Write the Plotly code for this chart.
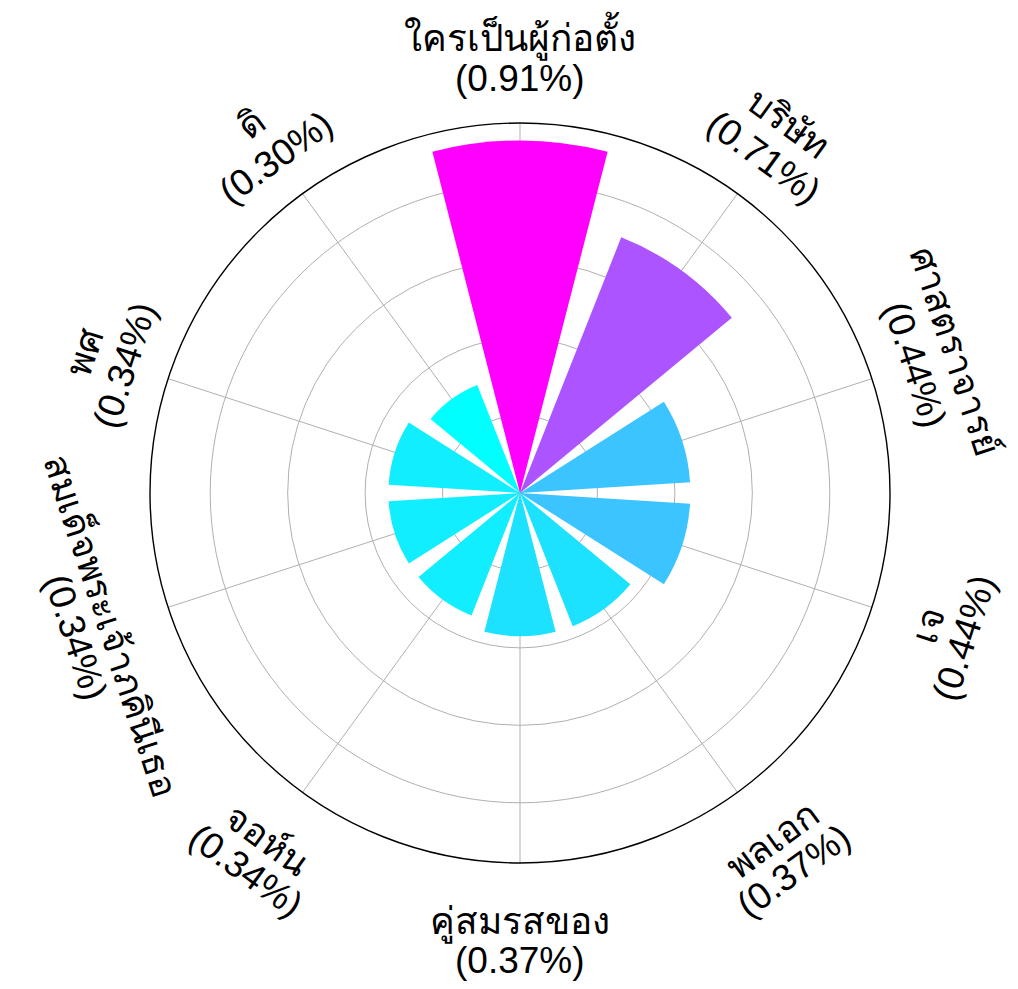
import math
import plotly.graph_objects as go

categories = ["ใครเป็นผู้ก่อตั้ง", "บริษัท", "ศาสตราจารย์", "เจ", "พลเอก",
              "คู่สมรสของ", "จอห์น", "สมเด็จพระเจ้าภคินีเธอ", "พศ", "ดิ"]
values = [0.91, 0.71, 0.44, 0.44, 0.37, 0.37, 0.34, 0.34, 0.34, 0.30]
pct_labels = ["(0.91%)", "(0.71%)", "(0.44%)", "(0.44%)", "(0.37%)",
              "(0.37%)", "(0.34%)", "(0.34%)", "(0.34%)", "(0.30%)"]

W, H = 1018, 989
CX, CY, R = 520, 493, 370
n = len(categories)
step = 360.0 / n
thetas = [i * step for i in range(n)]

vmin, vmax = min(values), max(values)
def cool(v):
    t = (v - vmin) / (vmax - vmin)
    return "rgb(%d,%d,255)" % (round(255 * t), round(255 * (1 - t)))
colors = [cool(v) for v in values]

fig = go.Figure()
fig.add_trace(go.Barpolar(
    r=values, theta=thetas, width=[step * 0.8] * n,
    marker=dict(color=colors, line=dict(width=0)),
    hoverinfo="skip",
))

FONT = dict(family="Liberation Sans, Arial, sans-serif", size=37, color="black")
annotations = []
for th, lab, pct in zip(thetas, categories, pct_labels):
    upper = (th < 90 or th > 270)
    if upper:
        ang = th if th < 90 else th - 360
        r_lab, r_pct = 457, 415
    else:
        ang = th - 180
        r_lab, r_pct = 429, 467
    for txt, rr in ((lab, r_lab), (pct, r_pct)):
        px = CX + rr * math.sin(math.radians(th))
        py = CY - rr * math.cos(math.radians(th))
        annotations.append(dict(
            x=px / W, y=1 - py / H, xref="paper", yref="paper",
            text=txt, showarrow=False, textangle=ang,
            xanchor="center", yanchor="middle", font=FONT,
        ))

fig.update_layout(
    width=W, height=H, margin=dict(l=0, r=0, t=0, b=0),
    paper_bgcolor="white", plot_bgcolor="white", showlegend=False,
    annotations=annotations,
    polar=dict(
        domain=dict(x=[(CX - R) / W, (CX + R) / W], y=[1 - (CY + R) / H, 1 - (CY - R) / H]),
        bgcolor="white",
        radialaxis=dict(range=[0, vmax * 1.05], tick0=0, dtick=0.2, showticklabels=False,
                        ticks="", showline=False, gridcolor="#b0b0b0", gridwidth=1,
                        layer="below traces"),
        angularaxis=dict(direction="clockwise", rotation=90, tickmode="array",
                         tickvals=thetas, showticklabels=False, ticks="",
                         showline=True, linecolor="black", linewidth=1.4,
                         gridcolor="#b0b0b0", gridwidth=1, layer="below traces"),
    ),
)
fig.write_html("out.html")
